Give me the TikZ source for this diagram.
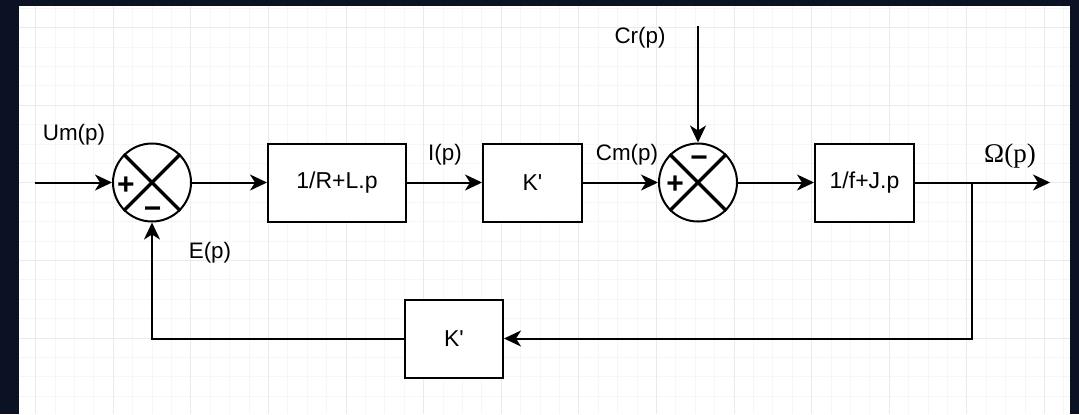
\documentclass[tikz,border=0pt]{standalone}
\usepackage{fontspec}
\setmainfont{Liberation Sans}
\newfontfamily\omegafont{Liberation Serif}
\usetikzlibrary{arrows.meta}
\definecolor{framecol}{RGB}{11,18,36}
\definecolor{gridminor}{RGB}{246,246,246}
\definecolor{gridmajor}{RGB}{234,234,234}

\begin{document}
\begin{tikzpicture}[x=0.5pt, y=-0.5pt,
    sig/.style={line width=1pt, -{Stealth[length=8.5pt, width=8pt, inset=2.5pt]}},
    block/.style={draw, line width=1pt, fill=white, minimum height=39pt, inner sep=0pt, font=\fontsize{11.5}{13}\selectfont},
    summer/.style={draw, circle, line width=1pt, fill=white, minimum size=39pt, inner sep=0pt},
    cross/.style={line width=1.75pt},
    sign/.style={anchor=base, inner sep=0pt, font=\bfseries\fontsize{15}{15}\selectfont},
    lbl/.style={inner sep=0pt, font=\fontsize{11.2}{13}\selectfont}]

    % Frame and grid
    \fill[framecol] (0,0) rectangle (1079,414);
    \fill[white] (19,6) rectangle (1070,414);
    \begin{scope}
        \clip (19,6) rectangle (1070,414);
        \foreach \k in {-5,...,49} {
            \draw[gridminor, line width=0.5pt] ({113.2+19.4*\k},6) -- ({113.2+19.4*\k},414);
        }
        \foreach \k in {-1,...,20} {
            \draw[gridminor, line width=0.5pt] (19,{27.7+19.4*\k}) -- (1070,{27.7+19.4*\k});
        }
        \foreach \k in {-1,...,12} {
            \draw[gridmajor, line width=0.5pt] ({113.2+77.6*\k},6) -- ({113.2+77.6*\k},414);
        }
        \foreach \k in {0,...,4} {
            \draw[gridmajor, line width=0.5pt] (19,{27.7+77.6*\k}) -- (1070,{27.7+77.6*\k});
        }
    \end{scope}

    % Blocks
    \node[summer] (s1) at (152,182.5) {};
    \node[block, minimum width=69pt] (motor) at (337,182.5) {1/R+L.p};
    \node[block, minimum width=49.5pt] (gain) at (532.5,182.5) {K\textquotesingle};
    \node[summer] (s2) at (698,182.5) {};
    \node[block, minimum width=49.5pt] (load) at (864.5,182.5) {1/f+J.p};
    \node[block, minimum width=49pt] (back) at (454,338.5) {K\textquotesingle};

    % Crosses and signs in the summers
    \foreach \s in {s1, s2} {
        \draw[cross] (\s.north west) -- (\s.south east);
        \draw[cross] (\s.north east) -- (\s.south west);
    }
    \node[sign] (p1) at (126,194.7) {+};
    \node[sign] (m1) at (152.7,218.2) {−};
    \node[sign] (m2) at (699,167.7) {−};
    \node[sign] (p2) at (675,193.7) {+};

    % Free ends
    \coordinate (in) at (35,182.5);
    \coordinate (out) at (1050,182.5);
    \coordinate (cr) at (698,26);
    \coordinate (branch) at (972,182.5);

    % Signals
    \draw[sig] (in) -- (s1.west);
    \draw[sig] (s1.east) -- (motor.west);
    \draw[sig] (motor) -- (gain);
    \draw[sig] (gain) -- (s2);
    \draw[sig] (cr) -- (s2.north);
    \draw[sig] (s2) -- (load);
    \draw[sig] (load) -- (out);
    \draw[sig] (branch) |- (back.east);
    \draw[sig] (back.west) -| (s1.south);

    % Labels
    \node[lbl] (um) at (74,135) {Um(p)};
    \node[lbl] (ep) at (210,252.5) {E(p)};
    \node[lbl] (ip) at (445,155) {I(p)};
    \node[lbl] (cm) at (627,155) {Cm(p)};
    \node[lbl] (crl) at (640,37.5) {Cr(p)};
    \node[inner sep=0pt, font=\omegafont\fontsize{13.5}{15}\selectfont] (om) at (1010,156) {Ω(p)};
\end{tikzpicture}
\end{document}
